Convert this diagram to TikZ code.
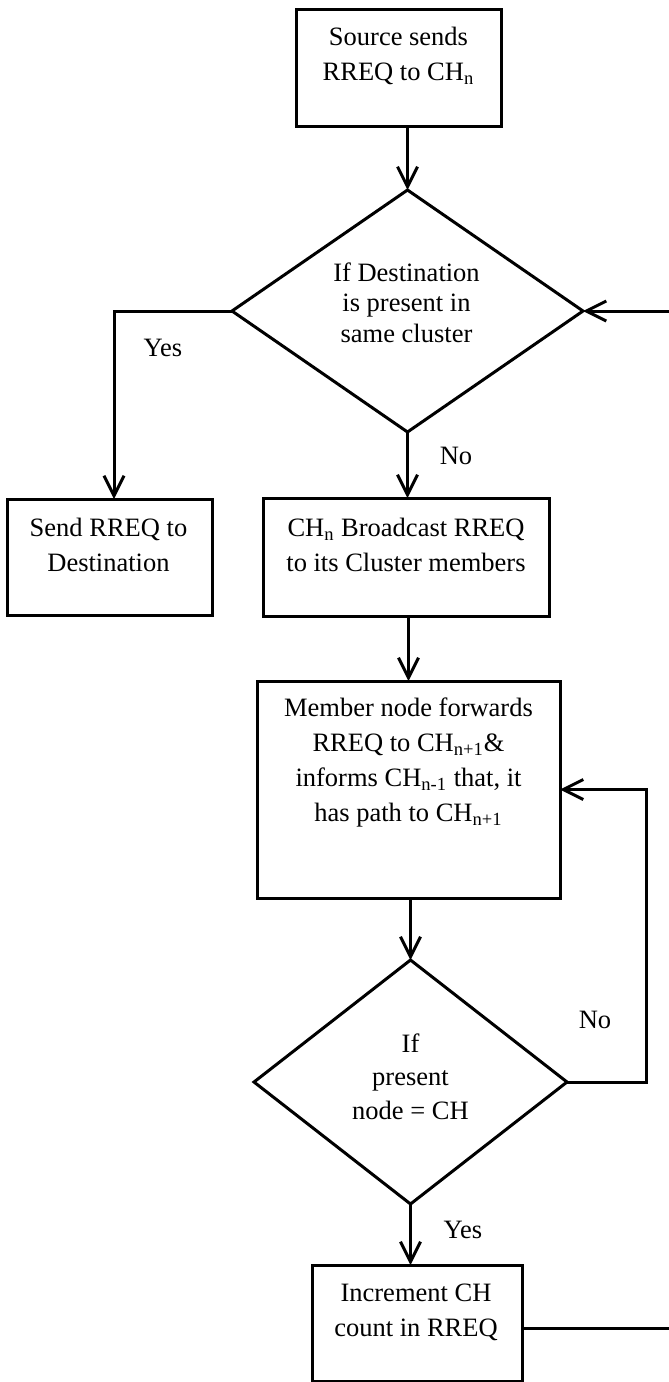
\documentclass[tikz,border=0pt]{standalone}
\usepackage{fontspec}
\setmainfont{Liberation Serif}
\usetikzlibrary{shapes.geometric,arrows.meta}

\begin{document}
\begin{tikzpicture}[x=0.5pt,y=-0.5pt,
  every node/.style={inner sep=0pt, outer sep=0pt},
  box/.style={draw, line width=1.5pt, rectangle},
  decision/.style={draw, line width=1.5pt, diamond},
  txt/.style={align=center, font=\fontsize{13.25}{17.5}\selectfont},
  arr/.style={line width=1.5pt, -{Straight Barb[length=10pt,width=10pt,line width=1.5pt]}},
  link/.style={line width=1.5pt},
  lbl/.style={font=\fontsize{13.25}{17.5}\selectfont}]
\useasboundingbox (0,0) rectangle (669,1382);

% process boxes and decisions
\node[box, minimum width=102.5pt, minimum height=58.5pt] (src) at (398.5,67.5) {};
\node[txt] (srct) at (398.5,55.5) {Source sends\\RREQ to CH\textsubscript{n}};

\node[decision, minimum width=175.5pt, minimum height=121pt] (d1) at (407.5,311) {};
\node[txt, font=\fontsize{13.25}{15.25}\selectfont] (d1t) at (406.5,302.5) {If Destination\\is present in\\same cluster};

\node[box, minimum width=102.5pt, minimum height=58pt] (send) at (109.5,557) {};
\node[txt] (sendt) at (108.5,544.5) {Send RREQ to\\Destination};

\node[box, minimum width=143pt, minimum height=59pt] (ch) at (406,557) {};
\node[txt] (cht) at (406,544.5) {CH\textsubscript{n} Broadcast RREQ\\to its Cluster members};

\node[box, minimum width=151.5pt, minimum height=108.5pt] (mem) at (408.5,789.5) {};
\node[txt] (memt) at (408.5,762.5) {Member node forwards\\RREQ to CH\textsubscript{n+1}\&\\informs CH\textsubscript{n-1} that, it\\has path to CH\textsubscript{n+1}};

\node[decision, minimum width=156.5pt, minimum height=122pt] (d2) at (410.5,1082) {};
\node[txt, font=\fontsize{13.25}{16.75}\selectfont] (d2t) at (410.5,1076.5) {If\\present\\node = CH};

\node[box, minimum width=105pt, minimum height=58pt] (inc) at (417,1323) {};
\node[txt] (inct) at (416,1312.5) {Increment CH\\count in RREQ};

% branch labels
\node[lbl] (yes1) at (163,348) {Yes};
\node[lbl] (no1) at (456,456) {No};
\node[lbl] (no2) at (595,1020) {No};
\node[lbl] (yes2) at (463,1230) {Yes};

% helper points for the routed connectors
\coordinate (yesx) at (114,499);
\coordinate (loopx) at (646,1082);
\coordinate (backx) at (673,1328);

% connectors
\draw[arr] (d1.north |- src.south) -- (d1.north);
\draw[arr] (d1.west) -| (yesx);
\draw[arr] (d1.south) -- (d1.south |- ch.north);
\draw[arr] (mem.north |- ch.south) -- (mem.north);
\draw[arr] (d2.north |- mem.south) -- (d2.north);
\draw[arr] (d2.east) -- (loopx) |- (mem.east);
\draw[arr] (d2.south) -- (d2.south |- inc.north);
\draw[arr] (inc.east |- backx) -- (backx) |- (d1.east);
\end{tikzpicture}
\end{document}
